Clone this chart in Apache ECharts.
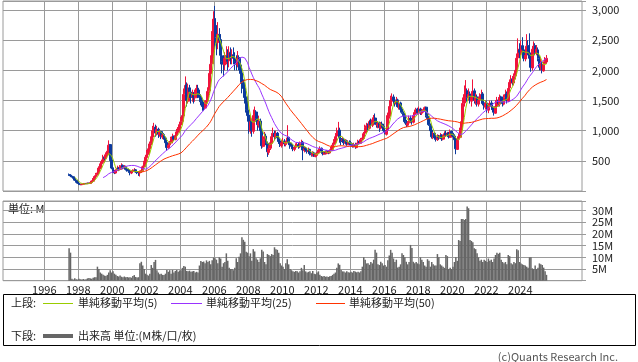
<!DOCTYPE html>
<html><head><meta charset="utf-8">
<script src="https://cdn.jsdelivr.net/npm/echarts@6/dist/echarts.min.js"></script>
<style>html,body{margin:0;padding:0;background:#fff}#c{width:638px;height:362px}</style>
</head><body><div id="c"></div>
<script>
// Monthly data, first month = 1997-06
const startYear = 1997, startMonth = 6;
const opens = [
270,262,248,236,208,178,152,
128,112,104,113,119,126,121,131,124,142,163,202,
238,272,302,378,452,478,565,538,602,655,770,515,
385,322,298,342,382,358,398,425,378,402,362,348,
332,298,322,328,352,318,312,298,322,338,405,468,
555,622,698,785,895,1005,1060,955,1025,935,985,895,
935,878,805,715,765,795,875,905,855,925,975,1005,
1095,1155,1245,1610,1760,1490,1710,1640,1560,1590,1545,1625,
1705,1595,1555,1475,1405,1375,1455,1495,1660,1945,2110,2490,
2860,2540,2460,2590,2510,2240,2160,2090,2210,2240,2160,2290,
2210,2260,2190,2160,2090,2210,2090,1960,1790,1710,1560,1340,
1260,990,1160,990,1260,1310,1190,1090,1160,990,740,860,
910,790,640,710,790,910,960,890,960,870,830,750,
810,830,770,810,890,790,770,730,690,730,750,770,
730,790,810,670,710,670,650,690,610,590,630,570,
590,630,670,710,650,610,650,620,660,630,670,690,
770,810,910,940,1010,870,830,860,790,830,770,810,
800,760,750,770,720,790,830,790,860,870,960,1040,
1090,1040,1160,1090,1190,1210,1140,1090,1130,1040,1110,1070,
1010,940,1010,1240,1410,1490,1560,1510,1440,1510,1390,1460,
1360,1290,1260,1140,1090,1130,1210,1170,1140,1260,1290,1360,
1290,1360,1290,1330,1340,1390,1240,1210,1090,1010,890,960,
890,850,910,870,930,860,910,960,920,960,890,990,
960,910,860,690,860,890,1010,1140,1460,1590,1660,1540,
1610,1490,1560,1660,1490,1560,1440,1510,1540,1610,1460,1390,
1460,1340,1410,1460,1390,1360,1290,1410,1510,1440,1560,1490,
1440,1560,1610,1490,1710,1790,1860,1790,1910,1990,2210,2340,
2290,2410,2340,2190,2260,2410,2290,2210,2040,2360,2410,2290,
2340,2190,2060,2090,1990,2110,2140];
const highs = [
290,275,255,240,212,182,155,
132,118,116,125,132,130,136,134,148,175,215,260,
300,330,410,490,520,600,590,640,700,840,780,530,
400,350,360,420,400,430,460,440,430,420,380,370,
345,340,360,380,360,340,330,340,360,420,500,600,
680,740,820,950,1080,1130,1100,1080,1050,1020,1000,960,
960,900,820,790,830,900,950,920,960,1030,1060,1150,
1230,1330,1700,1900,1800,1780,1760,1700,1680,1640,1680,1760,
1760,1680,1600,1520,1450,1500,1560,1720,2050,2250,2650,2980,
3068,2750,2800,2700,2600,2300,2250,2300,2400,2350,2400,2380,
2350,2380,2300,2250,2320,2250,2150,2000,1850,1800,1620,1450,
1300,1250,1200,1350,1400,1340,1250,1250,1200,1020,920,980,
950,820,760,850,960,1050,1000,1000,980,900,860,850,
880,860,830,1091,900,820,800,760,750,790,800,800,
820,850,830,740,730,700,720,700,640,660,650,630,
650,700,740,720,670,660,670,680,670,690,730,800,
860,960,1050,1146,1050,920,900,880,860,850,840,840,
830,790,800,800,800,850,850,880,920,980,1100,1130,
1120,1180,1200,1220,1260,1285,1200,1160,1150,1140,1150,1100,
1050,1050,1300,1450,1580,1618,1600,1550,1560,1530,1500,1480,
1380,1320,1280,1180,1160,1250,1250,1200,1280,1350,1380,1380,
1400,1380,1350,1380,1400,1400,1280,1230,1120,1030,980,980,
920,940,930,960,940,930,990,1000,980,980,1020,1000,
990,940,880,900,960,1050,1250,1550,1750,1839,1700,1700,
1650,1600,1850,1700,1620,1600,1560,1620,1680,1640,1500,1500,
1500,1450,1500,1500,1450,1400,1450,1560,1550,1600,1580,1520,
1600,1680,1650,1750,1850,1920,1900,1950,2050,2280,2531,2450,
2500,2550,2400,2350,2600,2500,2614,2250,2400,2480,2450,2420,
2380,2250,2200,2150,2150,2220,2254];
const lows = [
250,240,225,200,170,140,120,
100,98,100,108,115,115,118,118,120,135,158,195,
225,255,290,360,430,460,510,520,580,640,500,360,
300,280,290,330,330,340,380,360,360,340,320,300,
260,280,300,310,300,280,250,240,300,320,390,450,
540,600,680,760,860,950,900,920,880,900,860,860,
850,770,665,700,740,780,840,830,840,900,940,980,
1060,1100,1230,1500,1400,1450,1550,1450,1480,1450,1480,1560,
1540,1500,1420,1330,1324,1360,1420,1480,1620,1850,2050,2400,
2300,2250,2350,2350,2100,1950,1900,2000,2100,2000,2050,2100,
2100,2100,2000,2000,2050,2000,1850,1620,1600,1450,1300,1150,
950,950,900,950,1200,1150,1000,1050,900,700,720,800,
760,565,600,680,760,860,840,860,850,780,730,720,
760,740,740,790,760,700,700,660,660,700,720,700,
710,770,510,640,650,620,620,590,570,570,565,560,
580,610,650,630,590,600,610,610,610,620,650,680,
740,780,880,900,800,760,800,760,770,750,760,760,
740,720,720,700,710,770,780,780,840,850,940,1000,
1000,1020,1060,1060,1150,1100,1050,1040,980,1020,1050,980,
940,920,980,1200,1380,1450,1450,1400,1400,1380,1350,1300,
1280,1220,1120,1060,1070,1100,1140,1100,1120,1230,1270,1270,
1270,1260,1260,1300,1320,1220,1150,1080,980,870,860,850,
820,830,850,860,830,840,880,900,900,870,880,910,
890,820,610,680,830,870,980,1120,1400,1500,1480,1500,
1450,1400,1500,1450,1430,1400,1400,1450,1500,1420,1350,1350,
1300,1290,1350,1350,1300,1250,1280,1380,1400,1400,1450,1400,
1420,1520,1450,1480,1680,1750,1750,1750,1850,1950,2150,2200,
2250,2300,2150,2150,2200,2250,2150,1977,2000,2300,2250,2250,
2150,2000,2000,1950,1980,2080,2130];
const closes = [
260,250,235,210,180,150,130,
110,105,112,120,125,122,130,125,140,165,200,240,
270,300,380,450,480,560,540,600,660,760,520,380,
320,300,340,380,360,400,420,380,400,360,350,330,
300,320,330,350,320,310,300,320,340,400,470,560,
620,700,780,900,1000,1050,960,1020,940,980,900,930,
880,800,720,760,800,870,900,860,920,980,1000,1100,
1150,1250,1600,1750,1500,1700,1650,1550,1600,1550,1620,1700,
1600,1550,1480,1400,1380,1450,1500,1650,1950,2100,2500,2850,
2550,2450,2600,2500,2250,2150,2100,2200,2250,2150,2300,2200,
2250,2200,2150,2100,2200,2100,1950,1800,1700,1550,1350,1250,
1000,1150,1000,1250,1300,1200,1100,1150,1000,750,850,900,
800,650,700,800,900,950,900,950,880,820,760,800,
820,780,800,880,800,760,740,700,720,740,760,740,
780,800,680,700,680,660,680,620,600,620,580,600,
620,680,700,660,620,640,630,650,640,660,700,760,
820,900,950,1000,880,820,850,800,820,780,800,790,
770,740,760,730,780,820,800,850,880,950,1050,1080,
1050,1150,1100,1180,1200,1150,1100,1120,1050,1100,1080,1000,
950,1000,1250,1400,1500,1550,1500,1450,1500,1400,1450,1350,
1300,1250,1150,1100,1120,1200,1180,1150,1250,1300,1350,1300,
1350,1300,1320,1350,1380,1250,1200,1100,1000,900,950,880,
860,900,880,920,870,900,950,930,950,900,980,950,
920,850,700,850,900,1000,1150,1450,1600,1650,1550,1600,
1500,1550,1650,1500,1550,1450,1500,1550,1600,1450,1400,1450,
1350,1400,1450,1400,1350,1300,1400,1500,1450,1550,1500,1450,
1550,1600,1500,1700,1800,1850,1800,1900,2000,2200,2350,2300,
2400,2350,2200,2250,2400,2300,2200,2050,2350,2400,2300,2350,
2200,2050,2100,2000,2100,2150,2200];
// volume in millions
const volumes = [
13.9,12.0,0.8,0.5,1.0,0.6,0.5,
0.8,0.6,0.5,0.7,0.5,0.6,1.0,1.2,1.0,0.8,1.3,1.5,
1.5,6.0,5.0,3.5,3.0,2.5,2.2,2.0,2.5,3.5,4.5,3.5,
4.0,3.0,2.5,2.0,1.8,2.2,1.7,1.5,1.8,1.5,1.6,1.4,
1.5,1.3,2.0,2.4,1.6,1.4,1.5,7.5,8.1,6.5,5.0,3.0,
2.5,2.2,3.0,6.7,5.5,8.0,8.9,4.5,3.5,2.8,3.0,2.5,
2.4,3.0,4.6,3.8,4.5,3.0,4.6,3.5,4.2,4.6,3.8,4.4,
4.5,5.5,6.3,6.0,4.2,4.0,4.3,3.8,4.0,4.2,3.5,3.8,
3.5,6.5,8.4,8.0,8.2,7.5,8.7,8.0,8.5,7.0,8.7,9.9,
9.6,9.0,7.5,10.0,9.5,6.0,7.5,8.0,11.7,8.5,5.5,5.0,
5.0,4.5,5.5,9.6,8.0,10.3,11.7,18.6,17.5,16.7,12.4,12.0,
10.5,11.7,8.5,13.5,12.5,9.6,9.0,8.0,9.6,13.2,12.5,8.0,
7.0,11.4,11.0,10.5,11.4,11.0,14.3,13.5,13.2,12.0,7.5,6.5,
6.0,5.0,7.5,9.2,7.0,5.0,4.5,4.0,3.8,4.2,4.0,3.5,
4.0,5.5,4.5,6.7,4.0,3.5,3.8,4.0,3.2,4.2,3.0,2.8,
3.5,4.0,2.5,2.0,1.8,2.0,1.7,1.8,1.6,1.9,2.0,2.5,
3.0,3.5,5.5,7.4,6.8,4.6,4.0,3.9,3.5,4.0,3.6,3.5,
3.8,3.5,4.2,3.9,3.6,3.8,3.5,4.0,6.0,10.0,9.0,7.4,
7.5,6.8,8.0,7.4,9.0,13.2,12.0,7.0,6.7,8.1,7.5,6.5,
6.7,6.0,8.8,10.8,13.2,12.0,9.5,8.0,9.0,5.6,6.0,7.0,
11.7,11.0,10.0,8.1,7.0,8.0,15.3,14.0,8.1,7.5,8.0,7.4,
7.0,10.0,9.0,8.0,6.5,6.0,9.2,8.5,6.0,8.0,7.0,6.5,
6.5,11.4,10.0,7.0,6.5,6.0,5.5,11.0,10.5,5.0,5.5,5.0,
6.0,8.0,10.0,8.5,17.4,17.0,26.4,26.4,26.0,26.4,31.7,31.0,
17.4,17.0,16.5,13.9,13.5,11.7,10.0,8.5,9.0,8.0,9.0,8.5,
8.0,9.5,8.5,9.0,8.0,9.5,11.0,12.0,11.5,12.0,9.0,8.0,
7.5,8.0,7.0,11.0,10.5,7.5,7.0,8.0,7.5,13.5,13.0,8.0,
7.4,7.0,6.7,6.5,6.0,5.5,10.0,10.0,5.3,5.0,6.5,5.0,
5.5,7.4,7.0,6.7,5.6,4.0,2.5];
const yearTicks = [1996,1998,2000,2002,2004,2006,2008,2010,2012,2014,2016,2018,2020,2022,2024];
const priceTicks = [500,1000,1500,2000,2500,3000];
const volumeTicks = [5,10,15,20,25,30];
const maPeriods = [5,25,50];
const maNames = ['単純移動平均(5)','単純移動平均(25)','単純移動平均(50)'];

const UP='#f0143c', DOWN='#0c3a9e', GRID='#9a9a9a';
const maColors=['#99cc00','#9933ff','#ff3300'];
const FONT="'Noto Sans CJK JP', sans-serif";
const xMin=1993.57, xMax=2027.63;

function monthX(i){ return startYear + (startMonth - 1 + i + 0.5)/12; }
const candleData = closes.map((c,i)=>[monthX(i), opens[i], c, lows[i], highs[i]]);
const volData = volumes.map((v,i)=>[monthX(i), v]);
function sma(n){
  const out=[];
  for(let i=n-1;i<closes.length;i++){
    let s=0; for(let k=i-n+1;k<=i;k++) s+=closes[k];
    out.push([monthX(i), s/n]);
  }
  return out;
}

const chart = echarts.init(document.getElementById('c'), null, {renderer:'canvas'});
const hidden = {show:false};
const axisText = {fontFamily:FONT, fontSize:11, color:'#222'};
chart.setOption({
  animation:false,
  backgroundColor:'#fff',
  grid:[
    {left:3, top:1, width:579, height:190, show:true, borderColor:GRID, borderWidth:1},
    {left:44.3, top:1, width:476, height:190, show:false},
    {left:3, top:201, width:579, height:79.7, show:true, borderColor:GRID, borderWidth:1},
    {left:44.3, top:201, width:476, height:79.7, show:false}
  ],
  xAxis:[
    {gridIndex:0, type:'value', min:xMin, max:xMax, show:false},
    {gridIndex:1, type:'value', min:yearTicks[0], max:yearTicks[yearTicks.length-1], interval:2,
      axisLine:hidden, axisTick:hidden, axisLabel:hidden, splitLine:{show:true, lineStyle:{color:GRID, width:1}}},
    {gridIndex:2, type:'value', min:xMin, max:xMax, show:false},
    {gridIndex:3, type:'value', min:yearTicks[0], max:yearTicks[yearTicks.length-1], interval:2,
      axisLine:hidden, axisTick:hidden,
      axisLabel:Object.assign({show:true, margin:4, showMinLabel:true, showMaxLabel:true,
        formatter:v=>yearTicks.includes(v)?String(v):''}, axisText),
      splitLine:{show:true, lineStyle:{color:GRID, width:1}}}
  ],
  yAxis:[
    {gridIndex:0, type:'value', position:'right', min:0, max:3150, interval:500,
      axisLine:hidden, axisTick:{show:true, length:4, lineStyle:{color:GRID}},
      axisLabel:Object.assign({margin:10, formatter:v=>priceTicks.includes(v)?v.toLocaleString('en-US'):''}, axisText),
      splitLine:{show:true, lineStyle:{color:GRID, width:1}}},
    {gridIndex:1, type:'value', min:0, max:3150, show:false},
    {gridIndex:2, type:'value', position:'right', min:0, max:34.1, interval:5,
      axisLine:hidden, axisTick:{show:true, length:4, lineStyle:{color:GRID}},
      axisLabel:Object.assign({margin:10, formatter:v=>volumeTicks.includes(v)?v+'M':''}, axisText),
      splitLine:{show:true, lineStyle:{color:GRID, width:1}}},
    {gridIndex:3, type:'value', min:0, max:1, show:false}
  ],
  series:[
    {type:'candlestick', xAxisIndex:0, yAxisIndex:0, data:candleData, encode:{x:0, y:[1,2,3,4]},
      barWidth:2.4, itemStyle:{color:UP, color0:DOWN, borderColor:UP, borderColor0:DOWN, borderWidth:1}},
    ...maPeriods.map((p,k)=>({type:'line', name:maNames[k], xAxisIndex:0, yAxisIndex:0, data:sma(p),
      showSymbol:false, symbol:'none', lineStyle:{color:maColors[k], width:1}, z:3})),
    {type:'bar', xAxisIndex:2, yAxisIndex:2, data:volData, barWidth:1.5, itemStyle:{color:'#666666'}}
  ],
  graphic:[
    {type:'rect', shape:{x:3.5, y:294.5, width:632, height:51}, style:{fill:'none', stroke:'#000', lineWidth:1}},
    {type:'text', x:8, y:209, style:{text:'単位: M', fontFamily:FONT, fontSize:11, fill:'#222', verticalAlign:'middle'}},
    {type:'text', x:11, y:303, style:{text:'上段:', fontFamily:FONT, fontSize:11, fill:'#222', verticalAlign:'middle'}},
    {type:'line', shape:{x1:43, y1:303.5, x2:73, y2:303.5}, style:{stroke:maColors[0], lineWidth:1}},
    {type:'text', x:78, y:303, style:{text:maNames[0], fontFamily:FONT, fontSize:11, fill:'#222', verticalAlign:'middle'}},
    {type:'line', shape:{x1:171, y1:303.5, x2:202, y2:303.5}, style:{stroke:maColors[1], lineWidth:1}},
    {type:'text', x:206, y:303, style:{text:maNames[1], fontFamily:FONT, fontSize:11, fill:'#222', verticalAlign:'middle'}},
    {type:'line', shape:{x1:316, y1:303.5, x2:345, y2:303.5}, style:{stroke:maColors[2], lineWidth:1}},
    {type:'text', x:349, y:303, style:{text:maNames[2], fontFamily:FONT, fontSize:11, fill:'#222', verticalAlign:'middle'}},
    {type:'text', x:11, y:336, style:{text:'下段:', fontFamily:FONT, fontSize:11, fill:'#222', verticalAlign:'middle'}},
    {type:'line', shape:{x1:43, y1:336, x2:73, y2:336}, style:{stroke:'#666666', lineWidth:4}},
    {type:'text', x:78, y:336, style:{text:'出来高 単位:(M株/口/枚)', fontFamily:FONT, fontSize:11, fill:'#222', verticalAlign:'middle'}},
    {type:'text', x:618, y:357, style:{text:'(c)Quants Research Inc.', fontFamily:FONT, fontSize:11, fill:'#555', align:'right', verticalAlign:'middle'}}
  ]
});
</script>
</body></html>
